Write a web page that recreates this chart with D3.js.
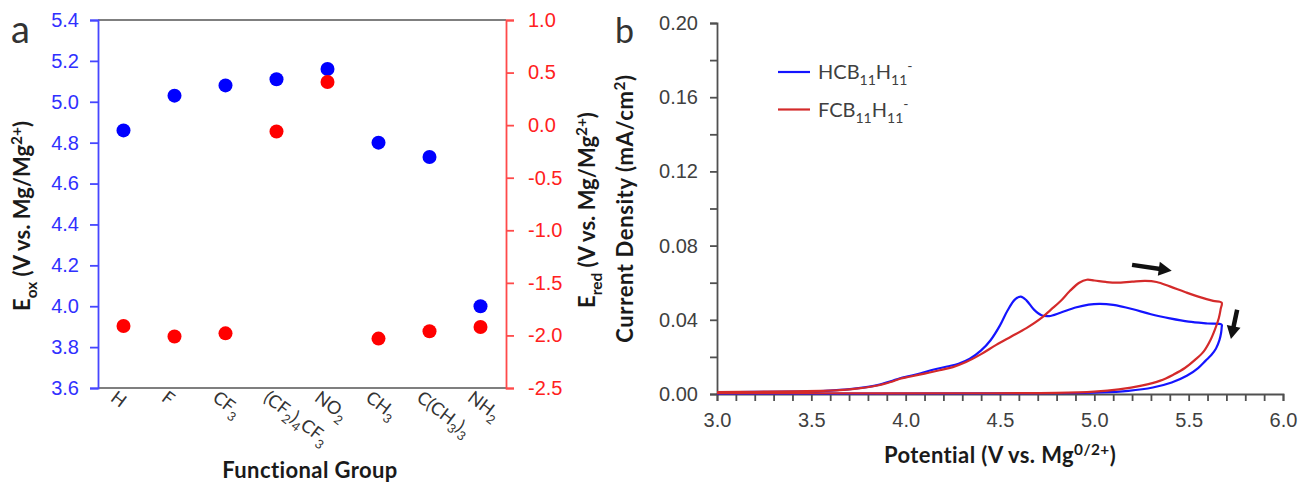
<!DOCTYPE html>
<html>
<head>
<meta charset="utf-8">
<script src="https://cdn.jsdelivr.net/npm/d3@7"></script>
<style>
  body { margin: 0; background: #fff; }
  svg { font-family: Lato, "Open Sans", sans-serif; }
</style>
</head>
<body>
<svg id="fig" width="1299" height="483"></svg>
<script>
// panel a: functional group potentials
const groups = ["H", "F", "CF3", "(CF2)4CF3", "NO2", "CH3", "C(CH3)3", "NH2"];
const eox = [4.86, 5.03, 5.08, 5.11, 5.16, 4.80, 4.73, 4.00];
const ered = [-1.91, -2.01, -1.98, -0.06, 0.41, -2.03, -1.96, -1.92];
const eoxTicks = [3.6, 3.8, 4.0, 4.2, 4.4, 4.6, 4.8, 5.0, 5.2, 5.4];
const eredTicks = [-2.5, -2.0, -1.5, -1.0, -0.5, 0.0, 0.5, 1.0];

// panel b: cyclic voltammetry
const hcbV = [3.00, 3.20, 3.40, 3.55, 3.65, 3.75, 3.85, 3.92, 3.97, 4.02, 4.08, 4.15, 4.22, 4.28, 4.34, 4.40, 4.45, 4.50, 4.54, 4.58, 4.61, 4.64, 4.68, 4.72, 4.76, 4.82, 4.90, 4.97, 5.03, 5.10, 5.20, 5.30, 5.40, 5.50, 5.60, 5.675,
  5.675, 5.672, 5.663, 5.645, 5.62, 5.59, 5.55, 5.49, 5.41, 5.31, 5.18, 5.03, 4.80, 4.40, 3.80, 3.00];
const hcbJ = [0.0010, 0.0011, 0.0013, 0.0016, 0.0022, 0.0032, 0.0048, 0.0068, 0.0085, 0.0097, 0.0112, 0.0132, 0.0148, 0.0163, 0.0190, 0.0235, 0.0290, 0.0370, 0.0450, 0.0510, 0.0525, 0.0505, 0.0455, 0.0425, 0.0420, 0.0438, 0.0466, 0.0482, 0.0486, 0.0480, 0.0458, 0.0430, 0.0408, 0.0390, 0.0380, 0.0374,
  0.0360, 0.0330, 0.0290, 0.0245, 0.0210, 0.0180, 0.0140, 0.0098, 0.0062, 0.0035, 0.0017, 0.0008, 0.0004, 0.0003, 0.0002, 0.0002];
const fcbV = [3.00, 3.20, 3.40, 3.55, 3.65, 3.75, 3.85, 3.92, 3.97, 4.02, 4.10, 4.18, 4.25, 4.32, 4.40, 4.48, 4.56, 4.64, 4.72, 4.77, 4.82, 4.87, 4.92, 4.96, 5.00, 5.06, 5.12, 5.20, 5.27, 5.33, 5.40, 5.48, 5.56, 5.63, 5.675,
  5.670, 5.660, 5.640, 5.615, 5.580, 5.535, 5.48, 5.42, 5.35, 5.25, 5.13, 5.00, 4.80, 4.30, 3.60, 3.00];
const fcbJ = [0.0010, 0.0012, 0.0014, 0.0017, 0.0021, 0.0030, 0.0046, 0.0065, 0.0082, 0.0093, 0.0110, 0.0128, 0.0145, 0.0172, 0.0215, 0.0265, 0.0310, 0.0355, 0.0410, 0.0455, 0.0500, 0.0555, 0.0600, 0.0616, 0.0612, 0.0604, 0.0600, 0.0606, 0.0610, 0.0604, 0.0580, 0.0550, 0.0522, 0.0502, 0.0492,
  0.0460, 0.0410, 0.0350, 0.0290, 0.0230, 0.0185, 0.0140, 0.0105, 0.0072, 0.0045, 0.0025, 0.0013, 0.0006, 0.0004, 0.0004, 0.0004];
const cvXTicks = [3.0, 3.5, 4.0, 4.5, 5.0, 5.5, 6.0];
const cvYTicks = [0.00, 0.04, 0.08, 0.12, 0.16, 0.20];
// scan direction arrows, [V, J] start -> end
const arrowStart = [[5.20, 0.0696], [5.757, 0.0454]];
const arrowEnd = [[5.41, 0.0665], [5.724, 0.0296]];

const svg = d3.select("#fig");

// write text with sub / sup runs: parts = [[text, mode], ...]
function rich(t, parts, size) {
  let shift = 0;
  parts.forEach(([s, mode]) => {
    let target = mode === "sub" ? 0.3 * size : mode === "sup" ? -0.38 * size : 0;
    t.append("tspan")
      .attr("dy", target - shift)
      .attr("font-size", mode ? size * 0.7 : size)
      .text(s);
    shift = target;
  });
}
// chemical formula: digits become subscripts
function formula(s) {
  return s.split(/(\d+)/).filter(d => d).map(d => [d, /\d/.test(d) ? "sub" : ""]);
}

const tickFont = 20, titleFont = 22;

// ---------- panel a ----------
const aL = 98, aR = 506, aT = 20, aB = 388;
const xA = d3.scalePoint().domain(groups).range([aL, aR]).padding(0.5);
const yOx = d3.scaleLinear().domain([3.6, 5.4]).range([aB, aT]);
const yRed = d3.scaleLinear().domain([-2.5, 1.0]).range([aB, aT]);

const ga = svg.append("g");
ga.append("line").attr("x1", aL).attr("x2", aR).attr("y1", aT).attr("y2", aT)
  .attr("stroke", "#555").attr("stroke-width", 1.5);
ga.append("line").attr("x1", aL).attr("x2", aR).attr("y1", aB).attr("y2", aB)
  .attr("stroke", "#555").attr("stroke-width", 1.5);

const leftAx = ga.append("g").attr("transform", `translate(${aL},0)`)
  .call(d3.axisLeft(yOx).tickValues(eoxTicks).tickFormat(d3.format(".1f")).tickSize(8).tickPadding(11));
leftAx.selectAll(".domain").attr("stroke", "#4646ff").attr("stroke-width", 1.8);
leftAx.selectAll(".tick line").attr("stroke", "#4646ff").attr("stroke-width", 1.8);
leftAx.selectAll("text").attr("fill", "#3030ff").attr("font-size", tickFont).attr("font-family", null);

const rightAx = ga.append("g").attr("transform", `translate(${aR},0)`)
  .call(d3.axisRight(yRed).tickValues(eredTicks).tickFormat(d => d3.format(".1f")(d).replace("−", "-"))
    .tickSize(8).tickPadding(14));
rightAx.selectAll(".domain").attr("stroke", "#ff4a4a").attr("stroke-width", 1.8);
rightAx.selectAll(".tick line").attr("stroke", "#ff4a4a").attr("stroke-width", 1.8);
rightAx.selectAll("text").attr("fill", "#ff2020").attr("font-size", tickFont).attr("font-family", null);

ga.selectAll(".ox").data(groups).join("circle")
  .attr("cx", d => xA(d)).attr("cy", (d, i) => yOx(eox[i])).attr("r", 7).attr("fill", "#0000ff");
ga.selectAll(".red").data(groups).join("circle")
  .attr("cx", d => xA(d)).attr("cy", (d, i) => yRed(ered[i])).attr("r", 7).attr("fill", "#ff0000");

groups.forEach(g => {
  const t = ga.append("text")
    .attr("transform", `translate(${xA(g) - 14},${aB + 12}) rotate(37)`)
    .attr("fill", "#333").attr("font-size", 18);
  rich(t, formula(g), 18);
});

ga.append("text").attr("x", (aL + aR) / 2 + 8).attr("y", 478).attr("text-anchor", "middle")
  .attr("font-weight", "bold").attr("font-size", titleFont).attr("letter-spacing", 0.4)
  .attr("fill", "#1a1a1a").text("Functional Group");

const tOx = ga.append("text").attr("transform", `translate(30,${(aT + aB) / 2 + 12}) rotate(-90)`)
  .attr("text-anchor", "middle").attr("font-weight", "bold").attr("fill", "#1a1a1a");
rich(tOx, [["E", ""], ["ox", "sub"], [" (V vs. Mg/Mg", ""], ["2+", "sup"], [")", ""]], titleFont);
const tRed = ga.append("text").attr("transform", `translate(595,${(aT + aB) / 2 + 6}) rotate(-90)`)
  .attr("text-anchor", "middle").attr("font-weight", "bold").attr("fill", "#1a1a1a");
rich(tRed, [["E", ""], ["red", "sub"], [" (V vs. Mg/Mg", ""], ["2+", "sup"], [")", ""]], titleFont);

svg.append("text").attr("x", 11).attr("y", 43).attr("font-size", 38).attr("fill", "#333").text("a");

// ---------- panel b ----------
const bL = 717, bR = 1283, bT = 23, bB = 394;
const xV = d3.scaleLinear().domain([3, 6]).range([bL, bR]);
const yJ = d3.scaleLinear().domain([0, 0.2]).range([bB, bT]);

const gb = svg.append("g");
const xAx = gb.append("g").attr("transform", `translate(0,${bB})`)
  .call(d3.axisBottom(xV).ticks(30).tickFormat(d => cvXTicks.some(v => Math.abs(v - d) < 1e-9) ? d3.format(".1f")(d) : "")
    .tickSize(7).tickPadding(12));
const yAx = gb.append("g").attr("transform", `translate(${bL},0)`)
  .call(d3.axisLeft(yJ).ticks(10).tickFormat(d => cvYTicks.some(v => Math.abs(v - d) < 1e-9) ? d3.format(".2f")(d) : "")
    .tickSize(7).tickPadding(12));
[xAx, yAx].forEach(ax => {
  ax.selectAll(".domain").attr("stroke", "#505050").attr("stroke-width", 1.8);
  ax.selectAll(".tick line").attr("stroke", "#505050").attr("stroke-width", 1.8);
  ax.selectAll("text").attr("fill", "#404040").attr("font-size", tickFont).attr("font-family", null);
});

const line = d3.line().x(d => xV(d[0])).y(d => yJ(d[1])).curve(d3.curveCatmullRom.alpha(0.5));
gb.append("path").datum(hcbV.map((v, i) => [v, hcbJ[i]])).attr("d", line)
  .attr("fill", "none").attr("stroke", "#1414ff").attr("stroke-width", 2.2);
gb.append("path").datum(fcbV.map((v, i) => [v, fcbJ[i]])).attr("d", line)
  .attr("fill", "none").attr("stroke", "#d42a2a").attr("stroke-width", 2.2);

// arrows
arrowStart.forEach((s, i) => {
  const x1 = xV(s[0]), y1 = yJ(s[1]), x2 = xV(arrowEnd[i][0]), y2 = yJ(arrowEnd[i][1]);
  const ang = Math.atan2(y2 - y1, x2 - x1) * 180 / Math.PI;
  const len = Math.hypot(x2 - x1, y2 - y1);
  const a = gb.append("g").attr("transform", `translate(${x1},${y1}) rotate(${ang})`);
  a.append("line").attr("x1", 0).attr("x2", len - 10).attr("y1", 0).attr("y2", 0)
    .attr("stroke", "#111").attr("stroke-width", 4.5);
  a.append("path").attr("d", `M${len - 13},-7L${len},0L${len - 13},7Z`).attr("fill", "#111");
});

// legend
const legend = [["HCB", "#1414ff"], ["FCB", "#d42a2a"]];
legend.forEach(([name, col], i) => {
  const y = 72 + i * 37.5;
  gb.append("line").attr("x1", 778).attr("x2", 810).attr("y1", y).attr("y2", y)
    .attr("stroke", col).attr("stroke-width", 2.2);
  const t = gb.append("text").attr("x", 818).attr("y", y + 7).attr("fill", "#404040");
  rich(t, [[name, ""], ["11", "sub"], ["H", ""], ["11", "sub"], ["-", "sup"]], 20);
});

gb.append("text").attr("x", (bL + bR) / 2).attr("y", 463).attr("text-anchor", "middle")
  .attr("font-weight", "bold").attr("fill", "#1a1a1a").attr("letter-spacing", 0.4)
  .call(t => rich(t, [["Potential (V vs. Mg", ""], ["0/2+", "sup"], [")", ""]], titleFont));
gb.append("text").attr("transform", `translate(633,${(bT + bB) / 2}) rotate(-90)`)
  .attr("text-anchor", "middle").attr("font-weight", "bold").attr("fill", "#1a1a1a").attr("letter-spacing", 0.6)
  .call(t => rich(t, [["Current Density  (mA/cm", ""], ["2", "sup"], [")", ""]], titleFont));

svg.append("text").attr("x", 615).attr("y", 43).attr("font-size", 34).attr("fill", "#333").text("b");
</script>
</body>
</html>
